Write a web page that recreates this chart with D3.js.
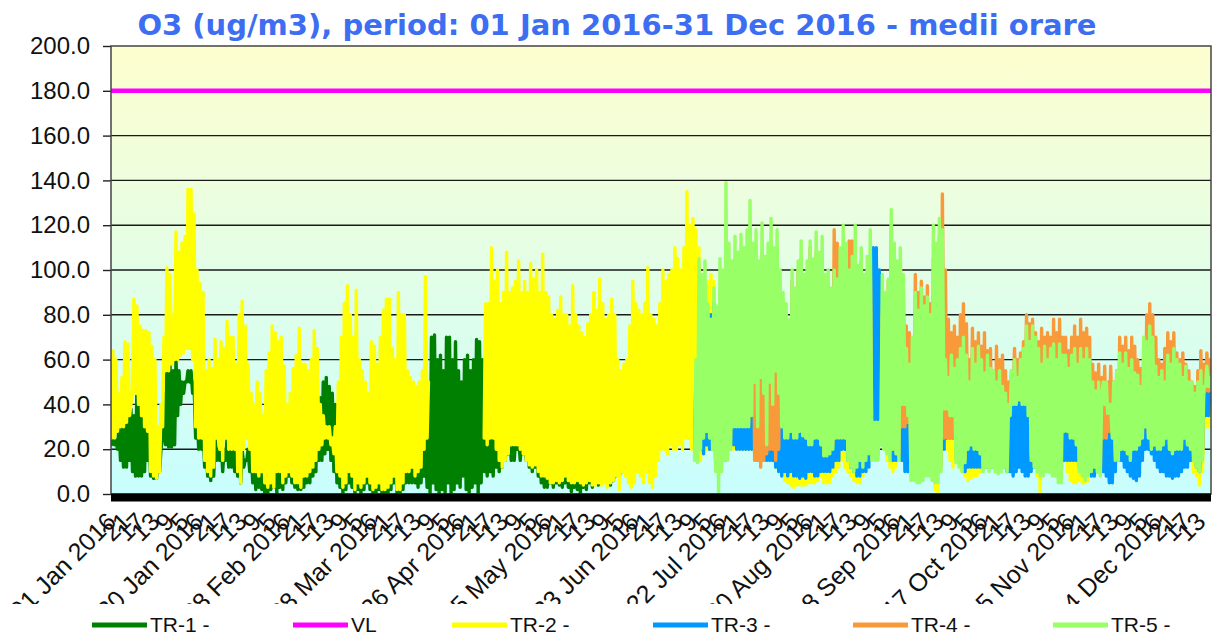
<!DOCTYPE html>
<html><head><meta charset="utf-8">
<script src="https://cdn.jsdelivr.net/npm/d3@7"></script>
<style>html,body{margin:0;padding:0;background:#fff;}svg{display:block;}</style>
</head><body>
<svg id="chart" width="1213" height="636"></svg>
<script>
// ---------- text / categories ----------
const titleText = "O3 (ug/m3), period: 01 Jan 2016-31 Dec 2016 - medii orare";
const yTickValues = [0, 20, 40, 60, 80, 100, 120, 140, 160, 180, 200];
const limitValue = 180;
const legendNames = ["TR-1 -", "VL", "TR-2 -", "TR-3 -", "TR-4 -", "TR-5 -"];
const mainLabelDays = [0, 29, 58, 87, 116, 145, 174, 203, 232, 261, 290, 319, 348];
const mainLabels = ["01 Jan 2016", "30 Jan 2016", "28 Feb 2016", "28 Mar 2016", "26 Apr 2016",
  "25 May 2016", "23 Jun 2016", "22 Jul 2016", "20 Aug 2016", "18 Sep 2016", "17 Oct 2016",
  "15 Nov 2016", "14 Dec 2016"];
const subLabels = ["21", "17", "13", "9", "5"];
const subLabelStepHours = 116;

// ---------- data: daily min / max of hourly values ----------
const tr1Start = 0;
const tr1Max = [
 25,24,30,32,40,48,38,35,48,45, 42,38,30,25,20,15,20,45,62,58,
 55,60,55,50,50,55,55,50,40,35, 30,30,25,20,25,20,25,20,25,20,
 20,20,20,20,15,20,20,20,25,25, 30,30,30,45,50,50,48,40,30,30,
 30,30,30,25,25,25,30,35,40,43, 50,52,48,45,40,30,30,30,30,30,
 30,30,25,25,25,30,30,30,30,30, 30,30,30,30,30,30,25,25,25,25,
 25,25,25,25,25,45,70,71,60,62, 55,70,70,60,68,55,50,60,62,55,
 60,69,68,60,45,40,35,38,30,30, 30,28,30,30,25,25,25,25,30,30,
 25,25,20,20,20,20,20,20,20,20, 20,20,20,20,20,20,20,20,20,20,
 20,18,20,18,20,18,15,15,15,15,15];
const tr1Min = [
 22,22,20,15,12,12,15,10,8,8, 8,10,15,8,7,7,10,25,22,21,
 21,22,35,40,45,50,50,45,25,20, 20,12,8,6,8,15,15,10,15,12,
 12,10,8,5,12,15,10,5,2,3, 2,0,0,2,3,0,3,2,5,8,
 5,3,2,2,3,5,5,8,10,15, 15,18,20,15,10,5,3,0,2,5,
 3,0,2,0,2,5,2,0,0,2, 0,0,0,2,5,0,0,2,5,5,
 5,5,3,5,8,3,0,5,2,0, 2,0,5,0,2,5,3,8,2,0,
 3,5,0,5,10,8,10,8,12,10, 12,15,18,15,15,20,15,18,15,12,
 10,12,8,5,3,3,5,3,5,4, 3,5,3,1,3,2,0,3,2,5,
 3,5,4,6,8,5,4,6,8,8,10];

const tr2Start = 0;
const tr2Max = [
 64,60,45,52,68,67,40,87,84,75, 73,73,72,66,60,30,40,70,101,98,
 80,117,108,112,115,136,136,125,100,94, 90,55,60,56,69,60,68,65,77,70,
 70,58,80,86,75,58,45,40,50,45, 35,55,63,75,72,68,70,57,40,45,
 56,62,74,58,58,55,60,73,65,40, 35,30,30,25,30,50,70,85,93,80,
 70,91,60,55,50,45,68,66,58,70, 82,87,87,65,60,90,80,80,55,52,
 50,48,50,55,97,50,null,null,null,null, null,null,null,null,null,null,null,null,null,null,
 null,null,null,null,85,85,110,95,100,85, 90,108,90,92,95,104,90,95,90,103,
 96,100,90,107,90,88,80,78,82,88, 80,80,75,93,80,75,72,70,76,80,
 90,82,96,85,78,80,87,80,60,55, 58,60,75,95,85,82,80,85,101,80,
 78,75,85,100,95,98,100,110,105,100, 110,135,120,123,118,110,90,85,95,98,
 95,80,80,90,95,100,95,90,85,90, 95,90,85,90,95,90,85,80,85,80,
 75,70,70,75,75,70,80,85,80,85, 80,85,80,85,80,75,70,75,80,75,
 80,85,80,85,80,75,80,75,80,75, 70,75,70,60,50,40,60,70,85,90,
 85,80,75,60,55,50,60,65,70,70, 65,70,75,85,95,90,85,50,45,45,
 45,50,55,55,45,40,50,50,45,45, 40,45,40,40,38,40,35,30,40,45,
 45,50,55,55,60,60,55,50,50,45, 50,50,55,55,55,50,50,45,45,50,
 50,50,45,40,40,40,35,30,30,30, 30,30,30,35,45,45,50,50,50,45,
 40,40,40,50,50,55,55,45,40,40, 45,50,50,45,45,40,40,40,35,35,
 35,35,35,40,40,40];
const tr2Min = [
 25,25,28,30,30,32,35,45,45,40, 35,30,28,10,8,7,10,30,55,55,
 58,60,60,62,63,65,65,60,30,25, 25,15,10,8,12,25,20,15,25,20,
 20,20,10,5,20,25,20,10,10,8, 10,5,3,5,3,10,10,5,8,10,
 8,5,5,3,8,8,10,12,15,20, 22,25,25,22,18,10,8,3,5,10,
 8,2,5,3,5,8,5,2,3,5, 2,2,3,5,8,2,2,5,10,10,
 12,8,10,12,20,25,null,null,null,null, null,null,null,null,null,null,null,null,null,null,
 null,null,null,null,25,22,25,25,20,15, 12,15,18,22,22,22,20,18,15,13,
 12,13,10,8,8,7,5,5,6,5, 6,8,6,5,5,6,5,4,5,6,
 4,4,5,4,5,3,5,6,8,2, 10,8,5,3,5,10,8,5,10,5,
 3,8,15,20,20,18,22,20,20,22, 20,25,25,20,18,15,15,20,20,20,
 20,15,15,18,18,20,20,20,20,20, 20,20,20,20,18,18,18,18,18,18,
 15,12,10,8,6,5,4,3,4,4, 4,4,5,5,5,6,8,5,5,5,
 8,10,12,15,12,10,8,6,5,5, 8,10,30,30,30,30,25,20,15,12,
 10,12,15,20,25,25,25,25,25,25, 25,25,25,15,2,0,15,25,20,15,
 12,15,15,10,8,6,7,8,8,10, 15,15,15,15,15,15,15,15,15,15,
 15,15,15,15,15,15,15,15,8,0, 10,12,15,15,15,15,15,15,10,6,
 5,5,6,5,5,6,10,15,15,15, 15,15,15,15,15,15,15,15,15,15,
 12,12,12,30,28,30,25,20,15,15, 15,15,15,15,15,15,15,15,15,15,
 10,8,4,10,30,30];

const tr3Start = 194;
const tr3Max = [
 40,60,70,75,80,80,85,80,75,85, 90,90,85,90,95,90,85,80,85,80,
 80,75,80,85,80,75,70,70,75,80, 75,75,85,80,75,80,85,80,75,80,
 80,75,70,75,80,85,80,85,80,75, 80,75,70,75,70,75,70,65,85,110,
 110,100,80,70,75,80,80,75,70,60, 55,50,60,65,70,70,70,75,75,80,
 85,90,85,60,50,50,50,50,55,55, 50,45,50,50,45,45,45,45,40,40,
 40,40,35,35,38,45,45,50,50,55, 60,60,55,50,50,45,50,50,55,55,
 55,50,50,45,45,50,50,50,45,40, 40,40,35,30,30,30,30,30,30,35,
 45,45,50,50,50,45,40,40,40,50, 50,55,55,45,40,40,45,50,50,45,
 45,40,40,40,35,35,35,35,35,40, 45,45];
const tr3Min = [
 20,22,20,18,22,20,20,15,10,15, 15,20,22,22,20,20,20,20,20,20,
 18,15,15,15,15,15,15,12,10,8, 10,8,10,8,8,7,8,7,10,10,
 8,8,10,10,10,10,12,15,15,20, 20,15,12,10,8,8,10,10,12,30,
 30,30,30,22,20,18,15,15,18,15, 10,10,12,20,20,20,20,20,20,20,
 20,20,20,20,25,25,25,25,15,12, 10,12,12,12,12,12,12,12,12,12,
 12,12,12,12,10,10,8,10,12,10, 8,8,10,12,12,12,12,12,10,10,
 12,10,8,15,15,15,15,15,15,12, 12,10,8,8,10,12,10,8,5,5,
 10,15,15,12,10,8,7,6,8,15, 20,20,18,15,12,10,10,8,8,7,
 8,8,10,12,12,15,15,12,10,20, 35,35];

const tr4Start = 194;
const tr4Max = [
 50,60,70,75,75,72,80,78,90,88, 100,95,100,105,100,105,100,105,110,105,
 105,100,104,100,105,100,90,85,75,80, 80,75,95,90,100,105,95,98,110,104,
 108,105,95,92,95,90,118,112,106,110, 108,113,113,105,100,104,96,100,105,28,
 28,28,80,88,95,120,108,100,104,92, 75,72,68,98,90,95,88,93,85,105,
 110,115,134,100,78,72,75,70,80,85, 76,60,74,68,72,66,72,64,65,55,
 66,60,62,55,50,55,65,60,63,68, 80,76,78,72,68,74,70,72,70,78,
 72,78,70,70,64,70,75,70,78,72, 74,70,58,54,58,52,57,50,57,50,
 55,70,66,70,64,70,66,60,56,65, 80,85,80,70,60,58,65,72,68,72,
 63,60,63,58,55,50,48,55,64,58, 63,60];
const tr4Min = [
 30,28,30,30,30,28,25,25,25,25, 25,25,25,32,32,32,32,32,32,36,
 15,15,12,15,18,20,20,15,20,32, 27,27,30,27,27,30,28,27,24,24,
 27,27,24,20,20,20,22,27,27,27, 27,20,18,15,15,18,15,18,20,18,
 18,18,24,22,20,18,22,20,18,30, 30,32,10,10,10,10,10,10,10,10,
 10,10,12,25,25,25,25,16,15,14, 16,22,24,22,22,20,12,14,12,14,
 12,12,12,14,12,42,42,42,44,42, 42,40,18,14,12,10,10,12,12,10,
 10,8,8,30,30,27,27,24,12,10, 10,10,12,14,12,10,25,25,28,27,
 18,18,22,22,20,22,22,22,24,27, 32,27,22,22,22,22,24,27,22,22,
 22,22,22,27,24,22,18,15,12,18, 46,46];

const tr5Start = 194;
const tr5Max = [
 60,105,98,104,85,78,92,84,105,100, 139,112,104,115,108,116,110,118,131,112,
 118,104,121,106,112,123,110,118,100,90, 85,78,100,92,104,113,98,104,113,105,
 117,108,115,98,100,92,100,96,110,120, 112,100,106,120,102,110,98,106,118,32,
 32,32,98,90,96,127,112,104,110,98, 65,58,70,90,82,92,84,88,80,120,
 112,123,118,60,52,62,56,60,65,70, 62,50,65,58,66,60,54,62,56,55,
 50,55,48,45,40,55,60,52,60,65, 75,68,75,70,65,58,66,60,65,67,
 60,67,62,62,56,62,65,58,65,60, 65,60,50,46,50,44,40,36,40,50,
 55,63,58,63,56,60,54,53,48,70, 68,75,70,57,52,55,50,62,58,65,
 60,58,52,57,50,50,45,50,55,48, 57,52];
const tr5Min = [
 15,14,20,25,28,25,20,10,0,10, 15,15,20,30,30,30,30,30,30,35,
 50,30,52,45,22,50,40,55,45,30, 25,25,28,25,25,28,26,25,22,22,
 25,25,22,17,17,18,20,25,25,25, 25,15,12,10,12,15,12,15,18,15,
 15,15,22,20,18,15,20,18,15,40, 40,35,6,6,5,5,6,8,8,6,
 5,5,10,38,38,35,35,14,12,10, 14,20,22,20,20,18,10,12,10,12,
 10,9,10,12,10,35,40,40,42,40, 40,35,15,12,10,8,8,10,10,8,
 8,5,5,28,28,25,25,22,10,8, 6,8,10,12,10,8,50,50,40,25,
 15,15,20,20,18,15,20,20,22,25, 30,25,20,22,20,20,22,25,20,18,
 20,20,20,25,22,20,15,12,10,15, 48,48];

// ---------- styles ----------
const colors = {tr1: "#008000", vl: "#ff00ff", tr2: "#ffff00", tr3: "#0099ff", tr4: "#f99a3a", tr5: "#99ff66"};
const legendColors = [colors.tr1, colors.vl, colors.tr2, colors.tr3, colors.tr4, colors.tr5];
const legendX = [92, 293, 452, 653, 853, 1053];

// ---------- chart ----------
const svg = d3.select("#chart");
const plot = {left: 111, right: 1211, top: 46, bottom: 494};
const yearStart = new Date(Date.UTC(2016, 0, 1));
const yearEnd = new Date(Date.UTC(2017, 0, 1));
const x = d3.scaleUtc().domain([yearStart, yearEnd]).range([plot.left, plot.right]);
const y = d3.scaleLinear().domain([0, 200]).range([plot.bottom, plot.top]);

const defs = svg.append("defs");
const grad = defs.append("linearGradient").attr("id", "bg").attr("x1", 0).attr("y1", 0).attr("x2", 0).attr("y2", 1);
grad.append("stop").attr("offset", "0%").attr("stop-color", "#fefecf");
grad.append("stop").attr("offset", "100%").attr("stop-color", "#c8fefe");
defs.append("clipPath").attr("id", "plotClip").append("rect")
  .attr("x", plot.left).attr("y", plot.top).attr("width", plot.right - plot.left).attr("height", plot.bottom - plot.top + 2);
defs.append("clipPath").attr("id", "labelClip").append("rect")
  .attr("x", 0).attr("y", 503).attr("width", 1213).attr("height", 101);

svg.append("rect").attr("x", plot.left).attr("y", plot.top)
  .attr("width", plot.right - plot.left).attr("height", plot.bottom - plot.top).attr("fill", "url(#bg)");

// gridlines
svg.append("g").selectAll("line").data(yTickValues.filter(v => v > 0 && v < 200)).join("line")
  .attr("x1", plot.left).attr("x2", plot.right).attr("y1", d => y(d)).attr("y2", d => y(d))
  .attr("stroke", "#1a1a1a").attr("stroke-width", 1.4);

// y axis
const yAxis = svg.append("g").attr("transform", `translate(${plot.left},0)`)
  .call(d3.axisLeft(y).tickValues(yTickValues).tickFormat(d3.format(".1f")).tickSize(8).tickPadding(13));
yAxis.select(".domain").remove();
yAxis.selectAll("line").attr("stroke", "#222").attr("stroke-width", 1.4);
yAxis.selectAll("text").attr("font-family", "Liberation Sans, Arial, sans-serif").attr("font-size", 24).attr("fill", "#111");

// series
function buildPoints(start, mins, maxs) {
  const pts = [];
  mins.forEach((mn, i) => {
    const day = start + i;
    pts.push({t: new Date(Date.UTC(2016, 0, 1 + day, 4)), v: mn});
    pts.push({t: new Date(Date.UTC(2016, 0, 1 + day, 15)), v: maxs[i]});
  });
  return pts;
}
const line = d3.line().defined(d => d.v != null).x(d => x(d.t)).y(d => y(d.v));
const series = [
  {pts: buildPoints(tr1Start, tr1Min, tr1Max), color: colors.tr1},
  {pts: buildPoints(tr2Start, tr2Min, tr2Max), color: colors.tr2},
  {pts: buildPoints(tr3Start, tr3Min, tr3Max), color: colors.tr3},
  {pts: buildPoints(tr4Start, tr4Min, tr4Max), color: colors.tr4},
  {pts: buildPoints(tr5Start, tr5Min, tr5Max), color: colors.tr5}
];
const gData = svg.append("g").attr("clip-path", "url(#plotClip)");
series.forEach(s => {
  gData.append("path").datum(s.pts).attr("d", line).attr("fill", "none")
    .attr("stroke", s.color).attr("stroke-width", 3.4).attr("stroke-linejoin", "round").attr("stroke-linecap", "round");
});
// VL
gData.append("path").datum([{t: yearStart, v: limitValue}, {t: yearEnd, v: limitValue}])
  .attr("d", line).attr("stroke", colors.vl).attr("stroke-width", 4.5).attr("fill", "none");

// frame
svg.append("rect").attr("x", plot.left).attr("y", plot.top)
  .attr("width", plot.right - plot.left).attr("height", plot.bottom - plot.top)
  .attr("fill", "none").attr("stroke", "#444").attr("stroke-width", 1.5);
// thick base line
svg.append("rect").attr("x", plot.left).attr("y", y(0) - 0.5).attr("width", plot.right - plot.left).attr("height", 8).attr("fill", "#000");

// x axis labels
const labelMap = new Map();
const tickDates = [];
mainLabelDays.forEach((d, k) => {
  const base = new Date(Date.UTC(2016, 0, 1 + d));
  tickDates.push(base); labelMap.set(+base, mainLabels[k]);
  subLabels.forEach((s, j) => {
    const t = new Date(+base + (j + 1) * subLabelStepHours * 3600000);
    if (t < yearEnd) { tickDates.push(t); labelMap.set(+t, s); }
  });
});
const xAxis = svg.append("g").attr("clip-path", "url(#labelClip)").append("g")
  .attr("transform", `translate(0,${plot.bottom + 8})`)
  .call(d3.axisBottom(x).tickValues(tickDates).tickFormat(d => labelMap.get(+d)).tickSize(0));
xAxis.select(".domain").remove();
xAxis.selectAll("text")
  .attr("font-family", "Liberation Sans, Arial, sans-serif").attr("font-size", 25).attr("fill", "#111")
  .attr("x", 0).attr("y", 0).attr("dy", "0.35em")
  .attr("transform", "translate(0,15) rotate(-45)")
  .style("text-anchor", "end");

// title
svg.append("text").attr("x", 617).attr("y", 35).attr("text-anchor", "middle")
  .attr("font-family", "DejaVu Sans, Verdana, sans-serif").attr("font-weight", "bold").attr("font-size", 29)
  .attr("fill", "#3d6ef2").text(titleText);

// legend
const lg = svg.append("g").selectAll("g").data(legendNames).join("g")
  .attr("transform", (d, i) => `translate(${legendX[i]},0)`);
lg.append("line").attr("x1", 0).attr("x2", 55).attr("y1", 625).attr("y2", 625)
  .attr("stroke", (d, i) => legendColors[i]).attr("stroke-width", 5);
lg.append("text").attr("x", 58).attr("y", 631.5).text(d => d)
  .attr("font-family", "Liberation Sans, Arial, sans-serif").attr("font-size", 21).attr("fill", "#111");
</script>
</body></html>
